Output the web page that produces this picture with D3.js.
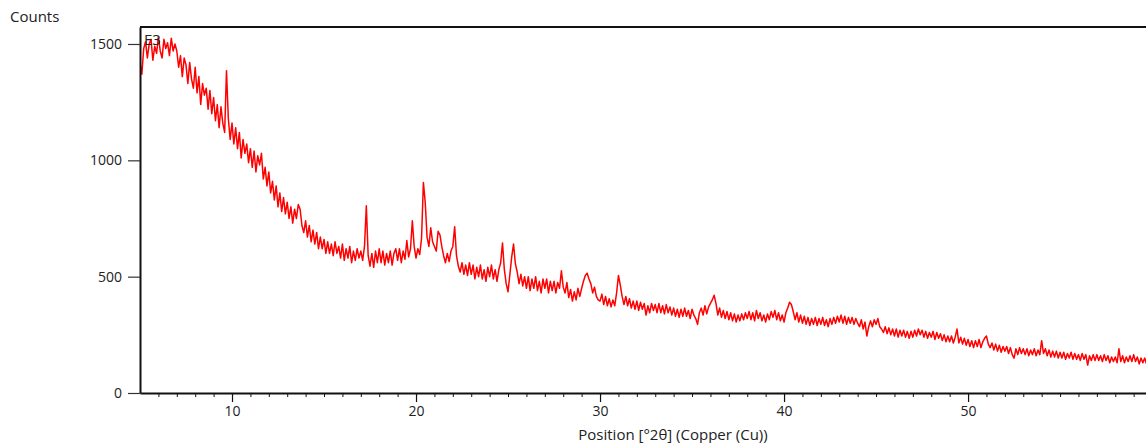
<!DOCTYPE html>
<html>
<head>
<meta charset="utf-8">
<script src="https://cdn.jsdelivr.net/npm/d3@7"></script>
<style>
  body { margin: 0; background: #fff; }
  svg text { font-family: "Open Sans", "Noto Sans", sans-serif; fill: #222; }
</style>
</head>
<body>
<div id="chart"></div>
<script>
// Scan settings (degrees 2-theta)
const startAngle = 5.0;
const stepSize = 0.1;

// Counts, one value every 0.1 deg from 5.0
const counts = [
  1420, 1370, 1480, 1510, 1440, 1500, 1520, 1430, 1490, 1460,
  1530, 1470, 1440, 1520, 1480, 1505, 1450, 1525, 1470, 1500,
  1470, 1400, 1450, 1360, 1440, 1410, 1330, 1420, 1350, 1310,
  1400, 1290, 1360, 1240, 1330, 1280, 1310, 1220, 1300, 1200,
  1270, 1170, 1240, 1140, 1230, 1160, 1120, 1385, 1180, 1090,
  1160, 1070, 1140, 1050, 1120, 1010, 1090, 1030, 1070, 990,
  1050, 970, 1040, 950, 1020, 980, 1030, 920, 970, 890,
  950, 860, 910, 830, 890, 800, 860, 780, 840, 770,
  820, 750, 800, 730, 790, 750, 810, 790, 720, 690,
  740, 670, 720, 650, 700, 640, 690, 620, 670, 620,
  660, 600, 650, 600, 640, 590, 650, 600, 630, 580,
  640, 570, 620, 580, 630, 560, 610, 570, 620, 580,
  610, 570, 630, 805, 590, 545, 600, 540, 610, 560,
  620, 560, 610, 550, 600, 560, 610, 550, 600, 620,
  570, 620, 560, 610, 575, 655, 585, 620, 740, 630,
  580, 620, 595, 665, 905, 820, 670, 630, 710, 650,
  630, 610, 695, 680, 630, 590, 560, 600, 565, 610,
  630, 715, 590, 545, 520, 560, 510, 550, 505, 560,
  510, 550, 490, 540, 500, 550, 490, 530, 480, 540,
  500, 550, 490, 530, 480, 530, 560, 645, 530, 470,
  435, 510, 585, 640, 555, 520, 470, 510, 460, 500,
  450, 500, 440, 490, 450, 500, 440, 480, 430, 490,
  450, 490, 430, 480, 440, 480, 430, 475, 450, 525,
  455, 430, 475, 410, 445, 395, 435, 400, 450, 415,
  450, 480, 505, 515, 490, 470, 430, 455, 415, 400,
  395, 425, 380, 415, 375, 405, 370, 400, 375, 430,
  505, 465, 415, 380, 415, 375, 405, 365, 395, 360,
  395, 355, 390, 360, 385, 335, 375, 345, 385, 355,
  380, 345, 385, 345, 375, 340, 380, 345, 370, 335,
  365, 330, 360, 325, 360, 330, 365, 330, 355, 320,
  360, 335, 320, 295, 345, 365, 335, 375, 340, 370,
  385, 400, 420, 385, 335, 365, 325, 355, 320, 350,
  315, 345, 310, 340, 305, 335, 310, 340, 315, 345,
  320, 350, 315, 345, 310, 355, 320, 345, 310, 335,
  305, 340, 315, 350, 325, 355, 315, 345, 310, 335,
  305, 345, 365, 390, 380, 350, 315, 345, 305, 335,
  300, 330, 295, 325, 290, 320, 295, 325, 290, 320,
  295, 325, 290, 315, 285, 320, 295, 325, 300, 330,
  305, 335, 300, 330, 295, 325, 300, 325, 295, 320,
  300, 285, 315, 275, 305, 245, 285, 310, 285, 315,
  295, 320, 285, 275, 260, 285, 255, 280, 250, 275,
  245, 275, 240, 270, 245, 270, 240, 265, 235, 265,
  240, 270, 245, 275, 250, 270, 240, 265, 235, 260,
  240, 265, 230, 260, 235, 255, 225, 250, 220, 245,
  220, 245, 215, 240, 275, 215, 240, 210, 235, 205,
  230, 200, 225, 195, 225, 200, 230, 195, 220, 235,
  245, 210, 195, 215, 185, 210, 180, 205, 175, 200,
  180, 200, 170, 195, 165, 150, 190, 165, 195, 170,
  190, 165, 190, 160, 185, 165, 190, 160, 185, 165,
  225, 170, 190, 160, 185, 155, 180, 155, 180, 150,
  175, 150, 175, 145, 170, 150, 175, 145, 170, 145,
  165, 140, 170, 145, 165, 120, 160, 140, 165, 140,
  165, 140, 160, 135, 165, 140, 160, 130, 155, 135,
  155, 130, 190, 135, 160, 130, 155, 135, 160, 135,
  165, 135, 155, 125, 150, 130, 150, 125
];

const xTicks = [10, 20, 30, 40, 50];
const yTicks = [0, 500, 1000, 1500];
const sampleName = "E3";
const xTitle = "Position [°2θ] (Copper (Cu))";
const yTitle = "Counts";

const width = 1146, height = 443;
const margin = { top: 27, right: 0, bottom: 50, left: 140 };

const data = counts.map((c, i) => ({ pos: startAngle + i * stepSize, count: c }));

const svg = d3.select('#chart').append('svg')
  .attr('width', width)
  .attr('height', height);

// x runs past the right edge of the window, like the original screenshot
const xScale = d3.scaleLinear()
  .domain([5, 59.67])
  .range([margin.left, width - margin.right]);

const yScale = d3.scaleLinear()
  .domain([0, 1573])
  .range([height - margin.bottom, margin.top]);

svg.append('defs').append('clipPath')
  .attr('id', 'plot-clip')
  .append('rect')
  .attr('x', margin.left)
  .attr('y', margin.top)
  .attr('width', width - margin.left)
  .attr('height', height - margin.bottom - margin.top);

// pattern line
const line = d3.line()
  .x(d => xScale(d.pos))
  .y(d => yScale(d.count));

svg.append('path')
  .datum(data)
  .attr('clip-path', 'url(#plot-clip)')
  .attr('fill', 'none')
  .attr('stroke', '#ff0000')
  .attr('stroke-width', 1.5)
  .attr('stroke-linejoin', 'round')
  .attr('d', line);

// minor x ticks every degree
const xMinor = d3.axisBottom(xScale)
  .tickValues(d3.range(6, 60, 1))
  .tickSize(4)
  .tickSizeOuter(0)
  .tickFormat('');
svg.append('g')
  .attr('transform', `translate(0,${height - margin.bottom})`)
  .call(xMinor)
  .call(g => g.select('.domain').remove())
  .selectAll('line').attr('stroke', '#111').attr('stroke-width', 1);

// major x axis
const xAxis = d3.axisBottom(xScale)
  .tickValues(xTicks)
  .tickSize(9)
  .tickSizeOuter(0)
  .tickPadding(4);
const xAxisG = svg.append('g')
  .attr('transform', `translate(0,${height - margin.bottom})`)
  .call(xAxis);
xAxisG.select('.domain').attr('stroke', '#111').attr('stroke-width', 2);
xAxisG.selectAll('line').attr('stroke', '#111').attr('stroke-width', 1.2);
xAxisG.selectAll('text').attr('font-size', 14).style('font-family', '"Open Sans", sans-serif').attr('fill', '#222');

// y axis
const yAxis = d3.axisLeft(yScale)
  .tickValues(yTicks)
  .tickFormat(d3.format('d'))
  .tickSize(12)
  .tickSizeOuter(0)
  .tickPadding(6);
const yAxisG = svg.append('g')
  .attr('transform', `translate(${margin.left},0)`)
  .call(yAxis);
yAxisG.select('.domain').attr('stroke', '#111').attr('stroke-width', 2);
yAxisG.selectAll('line').attr('stroke', '#333').attr('stroke-width', 1.2);
yAxisG.selectAll('text').attr('font-size', 14).style('font-family', '"Open Sans", sans-serif').attr('fill', '#222');

// top frame line
svg.append('line')
  .attr('x1', margin.left)
  .attr('x2', width)
  .attr('y1', margin.top)
  .attr('y2', margin.top)
  .attr('stroke', '#111')
  .attr('stroke-width', 2);

// labels
svg.append('text')
  .attr('x', 144)
  .attr('y', 45)
  .attr('font-size', 15)
  .attr('fill', '#111')
  .text(sampleName);

svg.append('text')
  .attr('x', 10)
  .attr('y', 22)
  .attr('font-size', 15)
  .text(yTitle);

svg.append('text')
  .attr('x', 673)
  .attr('y', 440)
  .attr('text-anchor', 'middle')
  .attr('font-size', 15)
  .text(xTitle);
</script>
</body>
</html>
